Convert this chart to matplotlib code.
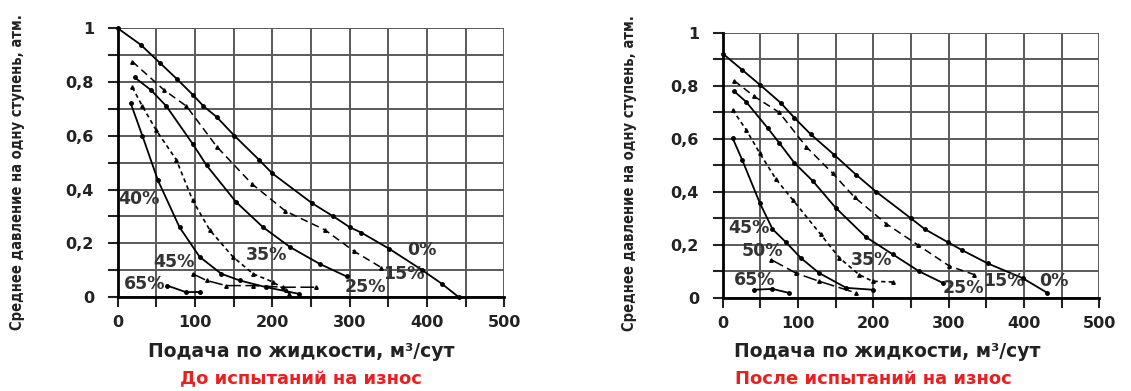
import matplotlib.pyplot as plt
from matplotlib.ticker import MultipleLocator, FuncFormatter

plt.rcParams['font.family'] = ['DejaVu Sans']

# ---- До испытаний на износ ----
b0_x = [0, 30, 55, 77, 98, 111, 128, 151, 183, 200, 251, 279, 300, 315, 351, 394, 419, 441]
b0_y = [1.0, 0.938, 0.87, 0.81, 0.75, 0.71, 0.67, 0.60, 0.51, 0.46, 0.35, 0.30, 0.26, 0.24, 0.18, 0.10, 0.05, 0.0]
b15_x = [19, 60, 89, 128, 174, 217, 268, 306, 341]
b15_y = [0.876, 0.77, 0.71, 0.56, 0.42, 0.32, 0.25, 0.17, 0.11]
b25_x = [22, 43, 63, 97, 115, 153, 188, 223, 261, 296]
b25_y = [0.817, 0.77, 0.71, 0.57, 0.49, 0.354, 0.26, 0.186, 0.124, 0.077]
b35_x = [19, 32, 50, 76, 97, 119, 149, 175, 201, 218, 222]
b35_y = [0.78, 0.71, 0.62, 0.51, 0.36, 0.25, 0.15, 0.087, 0.056, 0.025, 0.012]
b40_x = [17, 32, 52, 80, 106, 134, 158, 192, 235]
b40_y = [0.72, 0.60, 0.435, 0.26, 0.15, 0.087, 0.062, 0.037, 0.012]
b45_x = [97, 115, 140, 175, 214, 257]
b45_y = [0.087, 0.062, 0.043, 0.043, 0.037, 0.037]
b65_x = [64, 88, 107]
b65_y = [0.043, 0.019, 0.019]

# ---- После испытаний на износ ----
a0_x = [0, 26, 49, 77, 95, 117, 148, 177, 204, 250, 268, 299, 318, 352, 398, 431]
a0_y = [0.922, 0.86, 0.805, 0.736, 0.68, 0.617, 0.54, 0.465, 0.40, 0.30, 0.26, 0.21, 0.18, 0.13, 0.075, 0.019]
a15_x = [15, 42, 75, 111, 146, 175, 217, 259, 301, 334]
a15_y = [0.82, 0.76, 0.70, 0.57, 0.47, 0.38, 0.28, 0.20, 0.12, 0.088]
a25_x = [15, 31, 60, 75, 95, 120, 150, 190, 226, 261, 292]
a25_y = [0.78, 0.74, 0.64, 0.585, 0.51, 0.44, 0.34, 0.23, 0.164, 0.10, 0.057]
a35_x = [13, 31, 49, 71, 93, 130, 155, 181, 199, 226]
a35_y = [0.71, 0.635, 0.547, 0.447, 0.37, 0.24, 0.151, 0.088, 0.063, 0.06]
a45_x = [13, 26, 49, 66, 84, 104, 128, 164, 199]
a45_y = [0.604, 0.52, 0.36, 0.26, 0.21, 0.15, 0.094, 0.038, 0.031]
a50_x = [64, 97, 128, 177]
a50_y = [0.145, 0.094, 0.063, 0.019]
a65_x = [42, 66, 88]
a65_y = [0.031, 0.034, 0.019]

solid = dict(color='black', lw=1.3, ls='-', marker='o', ms=2.5)
dash = dict(color='black', lw=1.1, ls=(0, (5, 3)), marker='^', ms=2.5)
dot = dict(color='black', lw=1.2, ls=(0, (2.5, 2)), marker='^', ms=2.5)
longdash = dict(color='black', lw=1.1, ls=(0, (9, 3)), marker='^', ms=2.5)

before = [(b0_x, b0_y, solid), (b15_x, b15_y, dash), (b25_x, b25_y, solid),
          (b35_x, b35_y, dot), (b40_x, b40_y, solid), (b45_x, b45_y, longdash),
          (b65_x, b65_y, solid)]
before_labels = [('0%', 393, 0.174), ('15%', 370, 0.087), ('25%', 320, 0.037),
                 ('35%', 192, 0.155), ('40%', 28, 0.366), ('45%', 73, 0.13),
                 ('65%', 35, 0.05)]
after = [(a0_x, a0_y, solid), (a15_x, a15_y, dash), (a25_x, a25_y, solid),
         (a35_x, a35_y, dot), (a45_x, a45_y, solid), (a50_x, a50_y, longdash),
         (a65_x, a65_y, solid)]
after_labels = [('0%', 440, 0.063), ('15%', 373, 0.063), ('25%', 319, 0.036),
                ('35%', 197, 0.145), ('45%', 35, 0.264), ('50%', 53, 0.176),
                ('65%', 42, 0.069)]

fig = plt.figure(figsize=(11.31, 3.91), dpi=100)
ax1 = fig.add_axes([0.104, 0.240, 0.342, 0.688])
ax2 = fig.add_axes([0.639, 0.238, 0.333, 0.678])


def yfmt(v, p):
    if abs(v) < 1e-9:
        return '0'
    if abs(v - 1) < 1e-9:
        return '1'
    return f'{v:.1f}'.replace('.', ',')


def style(ax):
    ax.set_xlim(0, 500)
    ax.set_ylim(0, 1)
    ax.xaxis.set_major_locator(MultipleLocator(100))
    ax.xaxis.set_minor_locator(MultipleLocator(50))
    ax.yaxis.set_major_locator(MultipleLocator(0.2))
    ax.yaxis.set_minor_locator(MultipleLocator(0.1))
    ax.yaxis.set_major_formatter(FuncFormatter(yfmt))
    ax.grid(True, which='both', color='#5a5a5a', lw=1.4)
    ax.set_axisbelow(True)
    for s in ['top', 'right']:
        ax.spines[s].set_visible(False)
    for s in ['left', 'bottom']:
        ax.spines[s].set_linewidth(2)
    ax.tick_params(which='both', direction='out', length=7, width=1.5, labelsize=11.5, colors='#222222')
    ax.tick_params(axis='y', pad=10)
    ax.tick_params(axis='x', pad=6)
    for lab in ax.get_xticklabels() + ax.get_yticklabels():
        lab.set_fontweight('bold')


panels = [(ax1, before, before_labels, 'До испытаний на износ', (-0.24, 0.465), (0.474, -0.165), 0.474),
          (ax2, after, after_labels, 'После испытаний на износ', (-0.228, 0.47), (0.438, -0.165), 0.40)]

for ax, curves, labels, title, ylc, xlc, tx in panels:
    style(ax)
    for x, y, st in curves:
        ax.plot(x, y, clip_on=False, **st)
    for txt, x, y in labels:
        ax.text(x, y, txt, ha='center', va='center', fontsize=12.5, fontweight='bold', color='#333333')
    ax.set_ylabel('Среднее давление на одну ступень, атм.', fontsize=10.5,
                  fontweight='bold', fontstretch='condensed', color='#222222')
    ax.yaxis.set_label_coords(*ylc)
    ax.set_xlabel('Подача по жидкости, м³/сут', fontsize=13.5, fontweight='bold', color='#222222')
    ax.xaxis.set_label_coords(*xlc)
    ax.text(tx, -0.272, title, transform=ax.transAxes, ha='center', va='top',
            fontsize=13, fontweight='bold', color='#e8201f')

fig.savefig('out.png', dpi=100)
